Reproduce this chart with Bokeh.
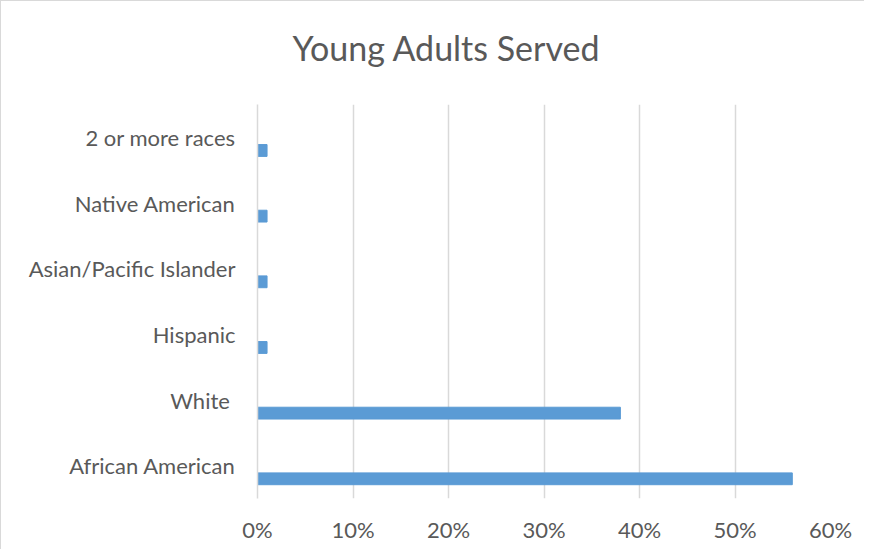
from bokeh.plotting import figure
from bokeh.models import Range1d, FixedTicker, NumeralTickFormatter, ColumnDataSource, Title
from bokeh.transform import dodge
from bokeh.embed import file_html
from bokeh.resources import INLINE

categories = ["African American", "White ", "Hispanic", "Asian/Pacific Islander",
              "Native American", "2 or more races"]
values = [0.56, 0.38, 0.01, 0.01, 0.01, 0.01]
x_ticks = [0.0, 0.1, 0.2, 0.3, 0.4, 0.5, 0.6]
title_text = "Young Adults Served"

FONT = "Lato"
GRID = "#d9d9d9"
TXT = "#595959"

src = ColumnDataSource(dict(category=categories, value=values))

p = figure(width=864, height=549, y_range=categories, x_range=Range1d(0, 0.6),
           output_backend="svg", toolbar_location=None,
           min_border_left=256, min_border_right=35, min_border_top=103,
           min_border_bottom=52)
p.styles = {"border-left": "1px solid #d9d9d9", "border-top": "1px solid #d9d9d9"}

p.hbar(y=dodge("category", -0.2, range=p.y_range), right="value", left=0,
       height=0.18, source=src, color="#5b9bd5", line_color="#5b9bd5")

p.title.text = title_text
p.title.align = "left"
p.title.offset = 35
p.title.text_font = FONT
p.title.text_font_size = "34px"
p.title.text_color = TXT
p.title.text_font_style = "normal"
p.title.vertical_align = "bottom"
p.title.standoff = 0

spacer = Title(text=" ", text_font_size="1px", standoff=34)
p.add_layout(spacer, "above")

p.outline_line_color = None
p.ygrid.grid_line_color = None
p.xgrid.grid_line_color = GRID
p.xgrid.grid_line_width = 1.5
p.xaxis.ticker = FixedTicker(ticks=x_ticks)
p.xaxis.formatter = NumeralTickFormatter(format="0%")
p.xaxis.axis_line_color = None
p.xaxis.major_tick_line_color = None
p.xaxis.minor_tick_line_color = None
p.xaxis.major_label_standoff = 11
p.yaxis.axis_line_color = GRID
p.yaxis.axis_line_width = 1.5
p.yaxis.major_tick_line_color = None
p.yaxis.minor_tick_line_color = None
p.yaxis.major_label_standoff = 16
for ax in (p.xaxis, p.yaxis):
    ax.major_label_text_font = FONT
    ax.major_label_text_font_size = "22px"
    ax.major_label_text_color = TXT

open("out.html", "w").write(file_html(p, INLINE))
